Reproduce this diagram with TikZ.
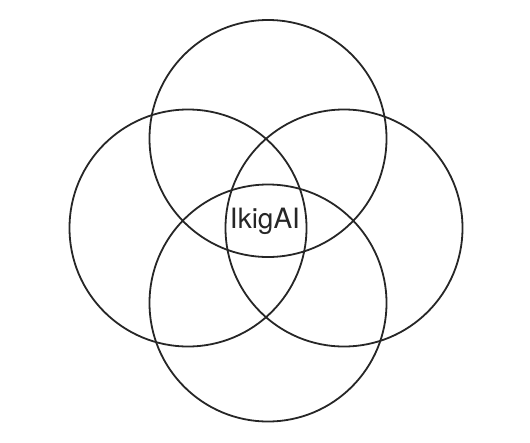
\documentclass[tikz,border=0pt]{standalone}
\usepackage{fontspec}
\setsansfont{TeX Gyre Heros}
\usetikzlibrary{positioning}

\begin{document}
\begin{tikzpicture}[x=1pt,y=-1pt,
 ring/.style={draw=black!85,line width=1.8pt,circle,minimum size=237pt,inner sep=0pt}]
\useasboundingbox (0,0) rectangle (530,442);
\node[ring] (top) at (268,138.5) {};
\node[ring] (bottom) at (268,303) {};
\node[ring] (left) at (188,228) {};
\node[ring] (right) at (344,228) {};
\node[font=\sffamily\fontsize{28}{30}\selectfont,text=black!85] (ikigai) at (265,221) {IkigAI};
\end{tikzpicture}
\end{document}
